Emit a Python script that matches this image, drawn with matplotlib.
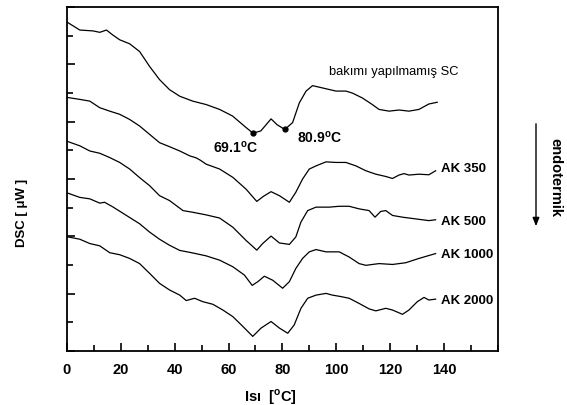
import matplotlib
matplotlib.use("Agg")
import matplotlib.pyplot as plt
from matplotlib.ticker import MultipleLocator, NullFormatter

plt.rcParams['font.family'] = ['Liberation Sans', 'DejaVu Sans']

# DSC curves (x = temperature in C, y = offset signal)
x_sc = [0, 4.8, 9.7, 12.2, 14.7, 17, 19.6, 23.3, 27, 30.7, 34.4, 38.1, 41.9, 46.7, 51.7,
        56.7, 61.5, 66.5, 69.1, 72, 74, 75.8, 78, 80.9, 83.8, 86.3, 88.8, 91.2, 94.9,
        99.9, 103.6, 106, 109.7, 113.4, 115.9, 119.6, 123.3, 127, 130.7, 134.4, 137.5]
y_sc = [11.48, 11.2, 11.17, 11.12, 11.2, 11.03, 10.86, 10.72, 10.45, 9.93, 9.47, 9.12, 8.89,
        8.72, 8.6, 8.43, 8.2, 7.8, 7.6, 7.68, 7.9, 8.1, 7.9, 7.73, 7.97, 8.66, 9.07, 9.26,
        9.18, 9.07, 9.07, 9.0, 8.83, 8.6, 8.43, 8.37, 8.41, 8.37, 8.43, 8.62, 8.68]

x_350 = [0, 4.8, 8.5, 12.2, 15.9, 19.6, 23.3, 27, 30.7, 34.4, 38.1, 41.9, 45.6, 48, 49.5,
         51.7, 56.7, 61.6, 66.5, 70.5, 73, 75.8, 78.9, 82.6, 85, 87.5, 90, 92.5, 96.2, 99.9,
         103.6, 107.3, 111, 114.7, 118.4, 120.9, 123.3, 125.2, 127, 130.7, 134.4, 136.9]
y_350 = [8.85, 8.78, 8.72, 8.49, 8.37, 8.26, 8.08, 7.85, 7.56, 7.27, 7.13, 6.98, 6.81, 6.74,
         6.66, 6.52, 6.35, 6.06, 5.65, 5.22, 5.4, 5.56, 5.42, 5.19, 5.54, 6.0, 6.35, 6.46,
         6.6, 6.58, 6.58, 6.46, 6.29, 6.17, 6.09, 6.02, 6.14, 6.19, 6.14, 6.17, 6.15, 6.29]

x_500 = [0, 4.8, 8.5, 12.2, 15.9, 19.6, 23.3, 27, 30.7, 34.4, 38.1, 43.1, 46.8, 51.7, 56.7,
         61.6, 66.5, 70.5, 72.7, 75.8, 78.9, 82.6, 85, 86.9, 89.4, 92.5, 97.4, 101.1, 104.8,
         108.5, 112.2, 114.4, 116.5, 118.4, 120.9, 124.6, 129.5, 134.4, 136.9]
y_500 = [7.32, 7.16, 6.98, 6.9, 6.75, 6.58, 6.35, 6.05, 5.77, 5.42, 5.25, 4.9, 4.84, 4.75,
         4.64, 4.32, 3.86, 3.52, 3.75, 4.01, 3.77, 3.72, 3.98, 4.5, 4.9, 5.02, 5.02, 5.05,
         5.05, 4.96, 4.9, 4.67, 4.87, 4.9, 4.73, 4.67, 4.61, 4.55, 4.58]

x_1000 = [0, 4.8, 8.5, 12.2, 14, 17.2, 22.1, 27, 30.7, 34.4, 38.1, 41.9, 46.8, 51.7, 56.7,
          61.6, 65.9, 68.8, 70.9, 73.3, 76.4, 80.1, 82.6, 85, 87.5, 90, 92.5, 96.2, 101.1,
          104.8, 108.5, 111, 115.9, 120.9, 125.8, 130.7, 136.9]
y_1000 = [5.52, 5.36, 5.31, 5.16, 5.19, 5.02, 4.73, 4.44, 4.15, 3.9, 3.69, 3.51, 3.42, 3.32,
          3.17, 2.94, 2.65, 2.29, 2.42, 2.61, 2.47, 2.19, 2.42, 2.88, 3.23, 3.46, 3.54, 3.46,
          3.46, 3.28, 3.05, 2.99, 3.05, 3.02, 3.08, 3.23, 3.4]

x_2000 = [0, 4.8, 8.5, 12.2, 15.9, 19.6, 23.3, 27, 30.7, 34.4, 38.1, 41.9, 44.3, 47.4, 50.5,
          54.2, 57.9, 61.6, 65.3, 69, 72.1, 75.8, 78.9, 82, 84.4, 86.9, 89.4, 92.5, 96.2,
          98.6, 101.7, 104.8, 108.5, 112.2, 114.7, 118.4, 120.9, 124.6, 127, 130.1, 132.6,
          134.4, 136.9]
y_2000 = [3.99, 3.9, 3.75, 3.67, 3.43, 3.36, 3.23, 3.05, 2.71, 2.36, 2.13, 1.95, 1.76, 1.84,
          1.72, 1.63, 1.43, 1.2, 0.86, 0.51, 0.8, 1.03, 0.8, 0.62, 0.91, 1.49, 1.84, 1.95,
          2.01, 1.95, 1.9, 1.84, 1.66, 1.47, 1.4, 1.49, 1.43, 1.28, 1.43, 1.72, 1.87, 1.78,
          1.81]

peak_x = [69.1, 80.9]
peak_y = [7.6, 7.73]

curve_names = ["AK 350", "AK 500", "AK 1000", "AK 2000"]
name_y = [6.38, 4.55, 3.4, 1.78]


def main():
    fig = plt.figure(figsize=(5.67, 4.06), dpi=100)
    ax = fig.add_axes([0.118, 0.133, 0.76, 0.847])

    for xs, ys in [(x_sc, y_sc), (x_350, y_350), (x_500, y_500),
                   (x_1000, y_1000), (x_2000, y_2000)]:
        ax.plot(xs, ys, color="black", lw=0.9)
    ax.plot(peak_x, peak_y, "o", color="black", ms=3.5)

    ax.text(121.5, 9.78, "bakımı yapılmamış SC", ha="center", va="center", fontsize=9.3)
    ax.text(62.6, 7.15, r"69.1$^\mathregular{o}$C", ha="center", va="center",
            fontsize=10, fontweight="bold")
    ax.text(93.7, 7.49, r"80.9$^\mathregular{o}$C", ha="center", va="center",
            fontsize=10, fontweight="bold")
    for name, yy in zip(curve_names, name_y):
        ax.text(139, yy, name, ha="left", va="center", fontsize=9.5, fontweight="bold")

    ax.set_xlim(0, 160)
    ax.set_ylim(0, 12)
    ax.xaxis.set_major_locator(MultipleLocator(20))
    ax.xaxis.set_minor_locator(MultipleLocator(10))
    ax.set_xticks(range(0, 141, 20))
    ax.yaxis.set_major_locator(MultipleLocator(2))
    ax.yaxis.set_minor_locator(MultipleLocator(1))
    ax.yaxis.set_major_formatter(NullFormatter())
    ax.tick_params(direction="in", which="major", length=6, width=1.2)
    ax.tick_params(direction="in", which="minor", length=4, width=1.2)
    ax.tick_params(axis="x", labelsize=10.5, pad=8)
    for lab in ax.get_xticklabels():
        lab.set_fontweight("bold")
    for sp in ax.spines.values():
        sp.set_linewidth(1.3)

    fig.text(22 / 567, 1 - 213 / 406, "DSC [ μW ]", rotation=90, ha="center", va="center",
             fontsize=9.5, fontweight="bold")
    fig.text(270 / 567, 1 - 397 / 406, r"Isı  [$^\mathregular{o}$C]", ha="center",
             va="center", fontsize=10.5, fontweight="bold")
    fig.text(555 / 567, 1 - 178 / 406, "endotermik", rotation=-90, ha="center",
             va="center", fontsize=10.5, fontweight="bold")
    fig.patches.append(matplotlib.patches.FancyArrowPatch(
        (536 / 567, 1 - 122 / 406), (536 / 567, 1 - 230 / 406),
        transform=fig.transFigure, arrowstyle="-|>,head_length=5,head_width=2",
        color="black", lw=1.0))

    fig.savefig("out.png", dpi=100)


if __name__ == "__main__":
    main()
